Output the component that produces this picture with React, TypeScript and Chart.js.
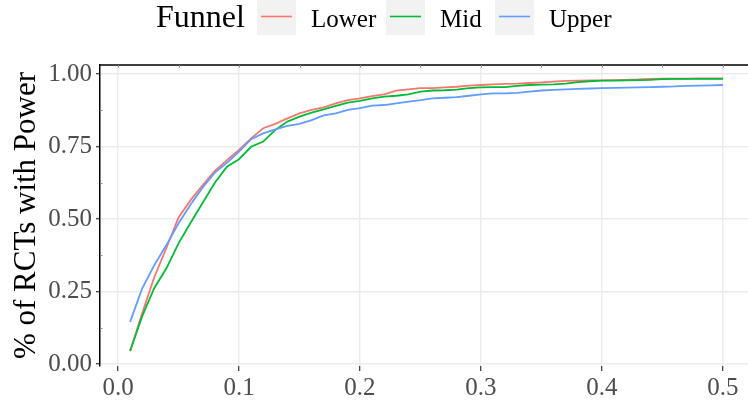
import React, { useEffect, useRef } from "react";
import { Chart, registerables } from "chart.js";

Chart.register(...registerables);

const powerLevels = [
  0.01, 0.02, 0.03, 0.04, 0.05, 0.06, 0.07, 0.08, 0.09, 0.1,
  0.11, 0.12, 0.13, 0.14, 0.15, 0.16, 0.17, 0.18, 0.19, 0.2,
  0.21, 0.22, 0.23, 0.24, 0.25, 0.26, 0.27, 0.28, 0.29, 0.3,
  0.31, 0.32, 0.33, 0.34, 0.35, 0.36, 0.37, 0.38, 0.39, 0.4,
  0.41, 0.42, 0.43, 0.44, 0.45, 0.46, 0.47, 0.48, 0.49, 0.5,
];

const lowerFunnel = [
  0.045, 0.175, 0.3, 0.4, 0.505, 0.565, 0.617, 0.666, 0.703, 0.738,
  0.778, 0.813, 0.828, 0.847, 0.864, 0.876, 0.885, 0.899, 0.91, 0.916,
  0.924, 0.93, 0.943, 0.947, 0.951, 0.951, 0.954, 0.956, 0.96, 0.962,
  0.964, 0.966, 0.967, 0.969, 0.971, 0.974, 0.976, 0.977, 0.978, 0.978,
  0.979, 0.98, 0.981, 0.983, 0.984, 0.984, 0.984, 0.985, 0.985, 0.985,
];

const midFunnel = [
  0.045, 0.165, 0.262, 0.33, 0.416, 0.487, 0.556, 0.625, 0.68, 0.706,
  0.749, 0.767, 0.807, 0.836, 0.853, 0.867, 0.878, 0.89, 0.901, 0.907,
  0.916, 0.922, 0.925, 0.93, 0.939, 0.943, 0.944, 0.946, 0.951, 0.954,
  0.955, 0.955, 0.959, 0.962, 0.963, 0.964, 0.967, 0.972, 0.975, 0.977,
  0.977, 0.978, 0.979, 0.98, 0.982, 0.983, 0.983, 0.983, 0.983, 0.983,
];

const upperFunnel = [
  0.145, 0.261, 0.341, 0.41, 0.485, 0.55, 0.609, 0.66, 0.694, 0.732,
  0.775, 0.795, 0.809, 0.821, 0.828, 0.841, 0.857, 0.864, 0.876, 0.882,
  0.891, 0.893, 0.899, 0.905, 0.91, 0.916, 0.918, 0.92, 0.925, 0.93,
  0.933, 0.933, 0.935, 0.939, 0.943, 0.945, 0.947, 0.949, 0.95, 0.951,
  0.952, 0.953, 0.954, 0.955, 0.956, 0.957, 0.959, 0.96, 0.961, 0.962,
];

const seriesNames = ["Lower", "Mid", "Upper"];
const seriesColors = ["#F8766D", "#00BA38", "#619CFF"];
const legendTitle = "Funnel";
const yAxisTitle = "% of RCTs with Power";
const xTickValues = [0, 0.1, 0.2, 0.3, 0.4, 0.5];
const yTickValues = [0, 0.25, 0.5, 0.75, 1];
const yMinorTickValues = [0.125, 0.375, 0.625, 0.875];
const topTickValues = [0, 0.05, 0.1, 0.15, 0.2, 0.25, 0.3, 0.35, 0.4, 0.45, 0.5];

const SERIF = '"Liberation Serif", "Times New Roman", serif';
const W = 748;
const H = 402;

const decorPlugin = {
  id: "decor",
  afterDraw(chart: any) {
    const { ctx, chartArea, scales } = chart;
    const xs = scales.x;
    const ys = scales.y;
    ctx.save();
    // top axis line
    ctx.strokeStyle = "#000";
    ctx.lineWidth = 1.5;
    ctx.beginPath();
    ctx.moveTo(chartArea.left, chartArea.top);
    ctx.lineTo(chartArea.right, chartArea.top);
    ctx.stroke();
    // small top ticks
    ctx.strokeStyle = "#888";
    ctx.lineWidth = 1;
    topTickValues.forEach((v) => {
      const px = Math.round(xs.getPixelForValue(v)) + 0.5;
      ctx.beginPath();
      ctx.moveTo(px, chartArea.top);
      ctx.lineTo(px, chartArea.top + 2.5);
      ctx.stroke();
    });
    // small inner minor ticks on left axis
    yMinorTickValues.forEach((v) => {
      const py = Math.round(ys.getPixelForValue(v)) + 0.5;
      ctx.beginPath();
      ctx.moveTo(chartArea.left, py);
      ctx.lineTo(chartArea.left + 2.5, py);
      ctx.stroke();
    });

    // legend
    ctx.fillStyle = "#000";
    ctx.textBaseline = "alphabetic";
    ctx.textAlign = "left";
    ctx.font = `32px ${SERIF}`;
    ctx.fillText(legendTitle, 156, 27);
    const boxX = [257, 386, 495];
    ctx.font = `25px ${SERIF}`;
    seriesNames.forEach((name, i) => {
      const bx = boxX[i];
      ctx.fillStyle = "#f2f2f2";
      ctx.fillRect(bx, 0, 39, 35);
      ctx.strokeStyle = seriesColors[i];
      ctx.lineWidth = 1.6;
      ctx.beginPath();
      ctx.moveTo(bx + 4, 16.5);
      ctx.lineTo(bx + 35, 16.5);
      ctx.stroke();
      ctx.fillStyle = "#000";
      ctx.fillText(name, bx + 54, 27);
    });
    ctx.restore();
  },
};

export default function App() {
  const canvasRef = useRef<HTMLCanvasElement | null>(null);

  useEffect(() => {
    const canvas = canvasRef.current;
    if (!canvas) return;
    const seriesValues = [lowerFunnel, midFunnel, upperFunnel];
    const chart = new Chart(canvas, {
      type: "line",
      data: {
        datasets: seriesNames.map((name, i) => ({
          label: name,
          data: powerLevels.map((x, j) => ({ x, y: seriesValues[i][j] })),
          borderColor: seriesColors[i],
          backgroundColor: seriesColors[i],
          borderWidth: 1.8,
          pointRadius: 0,
          tension: 0,
          fill: false,
          order: 3 - i,
        })),
      },
      options: {
        responsive: false,
        animation: false,
        devicePixelRatio: 1,
        layout: { padding: { top: 65, right: 0, bottom: 0, left: 0 } },
        plugins: {
          legend: { display: false },
          tooltip: { enabled: false },
        },
        scales: {
          x: {
            type: "linear",
            min: -0.0149,
            max: 0.5207,
            afterBuildTicks: (scale: any) => {
              scale.ticks = xTickValues.map((v) => ({ value: v }));
            },
            afterFit: (scale: any) => {
              scale.height = 36;
              scale.paddingLeft = 0;
              scale.paddingRight = 0;
            },
            grid: {
              color: "#ebebeb",
              lineWidth: 1.4,
              drawTicks: true,
              tickLength: 5,
              tickColor: "#333",
              tickWidth: 1.2,
            },
            border: { display: false },
            ticks: {
              autoSkip: false,
              maxRotation: 0,
              padding: 2,
              color: "#4d4d4d",
              font: { family: SERIF, size: 25 },
              callback: (v: any) => Number(v).toFixed(1),
            },
          },
          y: {
            type: "linear",
            min: -0.007,
            max: 1.031,
            afterBuildTicks: (scale: any) => {
              scale.ticks = yTickValues.map((v) => ({ value: v }));
            },
            afterFit: (scale: any) => {
              scale.width = 100;
            },
            grid: {
              color: "#ebebeb",
              lineWidth: 1.4,
              drawTicks: true,
              tickLength: 4,
              tickColor: "#333",
              tickWidth: 1.2,
            },
            border: { display: true, color: "#000", width: 1.5 },
            ticks: {
              padding: 4,
              color: "#4d4d4d",
              font: { family: SERIF, size: 25 },
              callback: (v: any) => Number(v).toFixed(2),
            },
            title: {
              display: true,
              text: yAxisTitle,
              color: "#000",
              font: { family: SERIF, size: 31 },
              padding: { top: 8, bottom: 0 },
            },
          },
        },
      },
      plugins: [decorPlugin],
    });
    return () => chart.destroy();
  }, []);

  return (
    <div style={{ position: "fixed", left: 0, top: 0, width: W, height: H, background: "#fff" }}>
      <canvas ref={canvasRef} width={W} height={H} style={{ width: W, height: H, display: "block" }} />
    </div>
  );
}
